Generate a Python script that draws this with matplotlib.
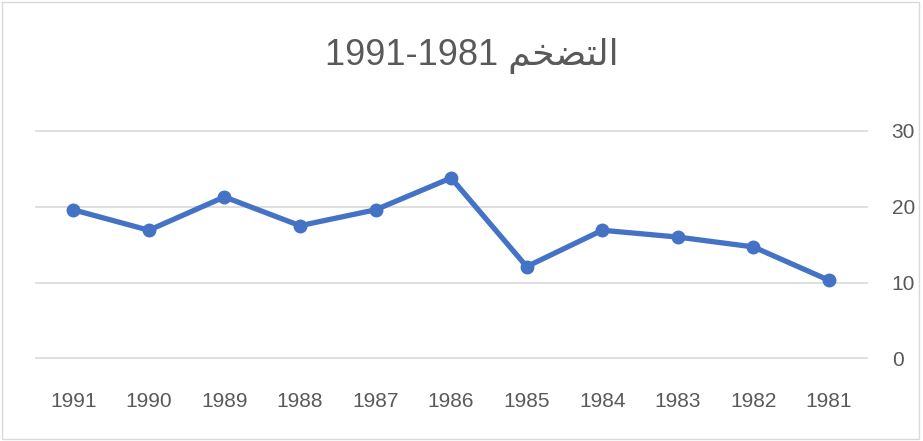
import matplotlib.pyplot as plt
from matplotlib.patches import Rectangle

# Data
years = ["1991", "1990", "1989", "1988", "1987", "1986",
         "1985", "1984", "1983", "1982", "1981"]
inflation = [19.6, 16.9, 21.3, 17.5, 19.6, 23.8, 12.1, 16.9, 16.0, 14.7, 10.3]
y_ticks = [0, 10, 20, 30]

# Arabic "التضخم" in presentation forms, visual order
title_ar = "\uFEE2\uFEA8\uFEC0\uFE98\uFEDF\uFE8D"
title = "1991-1981 " + title_ar

plt.rcParams["font.family"] = ["Liberation Sans Narrow", "Liberation Sans", "DejaVu Sans"]

fig = plt.figure(figsize=(9.23, 4.41), dpi=100)
ax = fig.add_axes([0.0385, 0.1875, 0.9005, 0.5155])

x = list(range(len(years)))
ax.plot(x, inflation, color="#4472C4", linewidth=3.8,
        marker="o", markersize=9, solid_capstyle="round", solid_joinstyle="round")

ax.set_xlim(-0.5, len(years) - 0.5)
ax.set_ylim(0, 30)
ax.set_xticks(x)
ax.set_xticklabels(years)
ax.set_yticks(y_ticks)

ax.yaxis.tick_right()
ax.grid(axis="y", color="#D9D9D9", linewidth=1.2)
ax.set_axisbelow(True)
for gl in ax.get_ygridlines():
    gl.set_clip_on(False)
for s in ax.spines.values():
    s.set_visible(False)
ax.tick_params(axis="both", length=0, colors="#595959", labelsize=15)
ax.tick_params(axis="x", pad=24)
ax.tick_params(axis="y", pad=18)

fig.text(0.511, 0.874, title, ha="center", va="center", fontsize=26,
         color="#595959", family=["Liberation Sans", "DejaVu Sans"])

# chart area border
fig.patches.append(Rectangle((0.002, 0.004), 0.994, 0.992, transform=fig.transFigure,
                             fill=False, edgecolor="#D9D9D9", linewidth=1.0))

fig.savefig("out.png", dpi=100)
